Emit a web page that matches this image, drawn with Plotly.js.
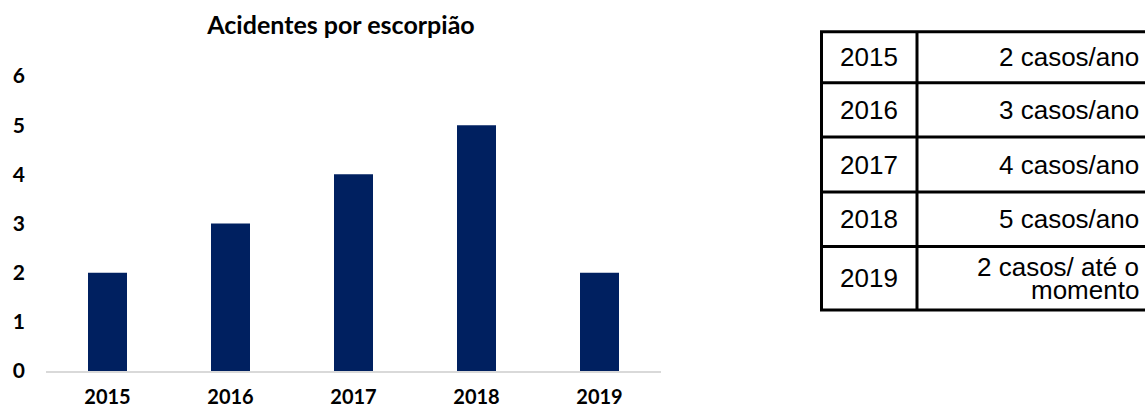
<!DOCTYPE html>
<html>
<head>
<meta charset="utf-8">
<script src="https://cdn.plot.ly/plotly-3.0.1.min.js"></script>
<style>html,body{margin:0;padding:0;background:#fff;}#chart{width:1145px;height:410px;}</style>
</head>
<body>
<div id="chart"></div>
<script>
const years = ['2015', '2016', '2017', '2018', '2019'];
const cases = [2, 3, 4, 5, 2];
const tableLabels = ['2 casos/ano', '3 casos/ano', '4 casos/ano', '5 casos/ano', '2 casos/ até o\nmomento'];
const yTicks = [0, 1, 2, 3, 4, 5, 6];
const chartTitle = 'Acidentes por escorpião';

const W = 1145, H = 410;
const mL = 46, mR = 484, mT = 76, mB = 39;
const pw = W - mL - mR, ph = H - mT - mB;
const px = x => (x - mL) / pw;          // pixel x -> paper
const py = y => (H - mB - y) / ph;      // pixel y -> paper

// table layout (pixels)
const rowEdges = [31.7, 82.7, 137, 192, 246.5, 310];
const colLeft = 821.5, colMid = 917, colRight = 1160;
const textRight = 1141;
const lineGap = 23;

const tableFont = {family: 'Liberation Sans, Arial, sans-serif', size: 26, color: '#000'};
const lineStyle = {color: '#000', width: 3};

const shapes = [];
rowEdges.forEach(y => shapes.push({type: 'line', xref: 'paper', yref: 'paper',
  x0: px(colLeft - 1.5), x1: px(colRight), y0: py(y), y1: py(y), line: lineStyle}));
[colLeft, colMid].forEach(x => shapes.push({type: 'line', xref: 'paper', yref: 'paper',
  x0: px(x), x1: px(x), y0: py(rowEdges[0]), y1: py(rowEdges[rowEdges.length - 1]), line: lineStyle}));

const annotations = [];
years.forEach((yr, i) => {
  const yc = (rowEdges[i] + rowEdges[i + 1]) / 2;
  annotations.push({xref: 'paper', yref: 'paper', x: px((colLeft + colMid) / 2), y: py(yc),
    xanchor: 'center', yanchor: 'middle', text: yr, showarrow: false, font: tableFont});
  const lines = tableLabels[i].split('\n');
  lines.forEach((ln, k) => {
    const yl = yc + (k - (lines.length - 1) / 2) * lineGap;
    annotations.push({xref: 'paper', yref: 'paper', x: px(textRight), y: py(yl),
      xanchor: 'right', yanchor: 'middle', text: ln, showarrow: false, font: tableFont});
  });
});

const bar = {
  type: 'bar', x: years, y: cases,
  marker: {color: '#002060'},
  hoverinfo: 'x+y'
};

const tickFont = {family: 'Lato, sans-serif', size: 21, color: '#000', weight: 'bold'};

const layout = {
  width: W, height: H,
  margin: {l: mL, r: mR, t: mT, b: mB},
  paper_bgcolor: '#fff', plot_bgcolor: '#fff',
  showlegend: false,
  bargap: 0.683,
  title: {
    text: '<b>' + chartTitle + '</b>',
    font: {family: 'Lato, sans-serif', size: 25, color: '#000'},
    x: px(341), xref: 'paper', xanchor: 'center',
    y: 1 - 25 / H, yref: 'container', yanchor: 'middle'
  },
  xaxis: {
    type: 'category',
    showgrid: false, zeroline: false,
    showline: true, linecolor: '#d9d9d9', linewidth: 2,
    ticks: '', ticklabelstandoff: 7, automargin: false,
    tickfont: Object.assign({}, tickFont, {size: 20})
  },
  yaxis: {
    range: [0, 6],
    tickvals: yTicks,
    showgrid: false, zeroline: false, showline: false,
    ticks: '', ticklabelstandoff: 20, automargin: false,
    tickfont: tickFont
  },
  shapes: shapes,
  annotations: annotations
};

Plotly.newPlot('chart', [bar], layout, {displayModeBar: false, staticPlot: true});
</script>
</body>
</html>
